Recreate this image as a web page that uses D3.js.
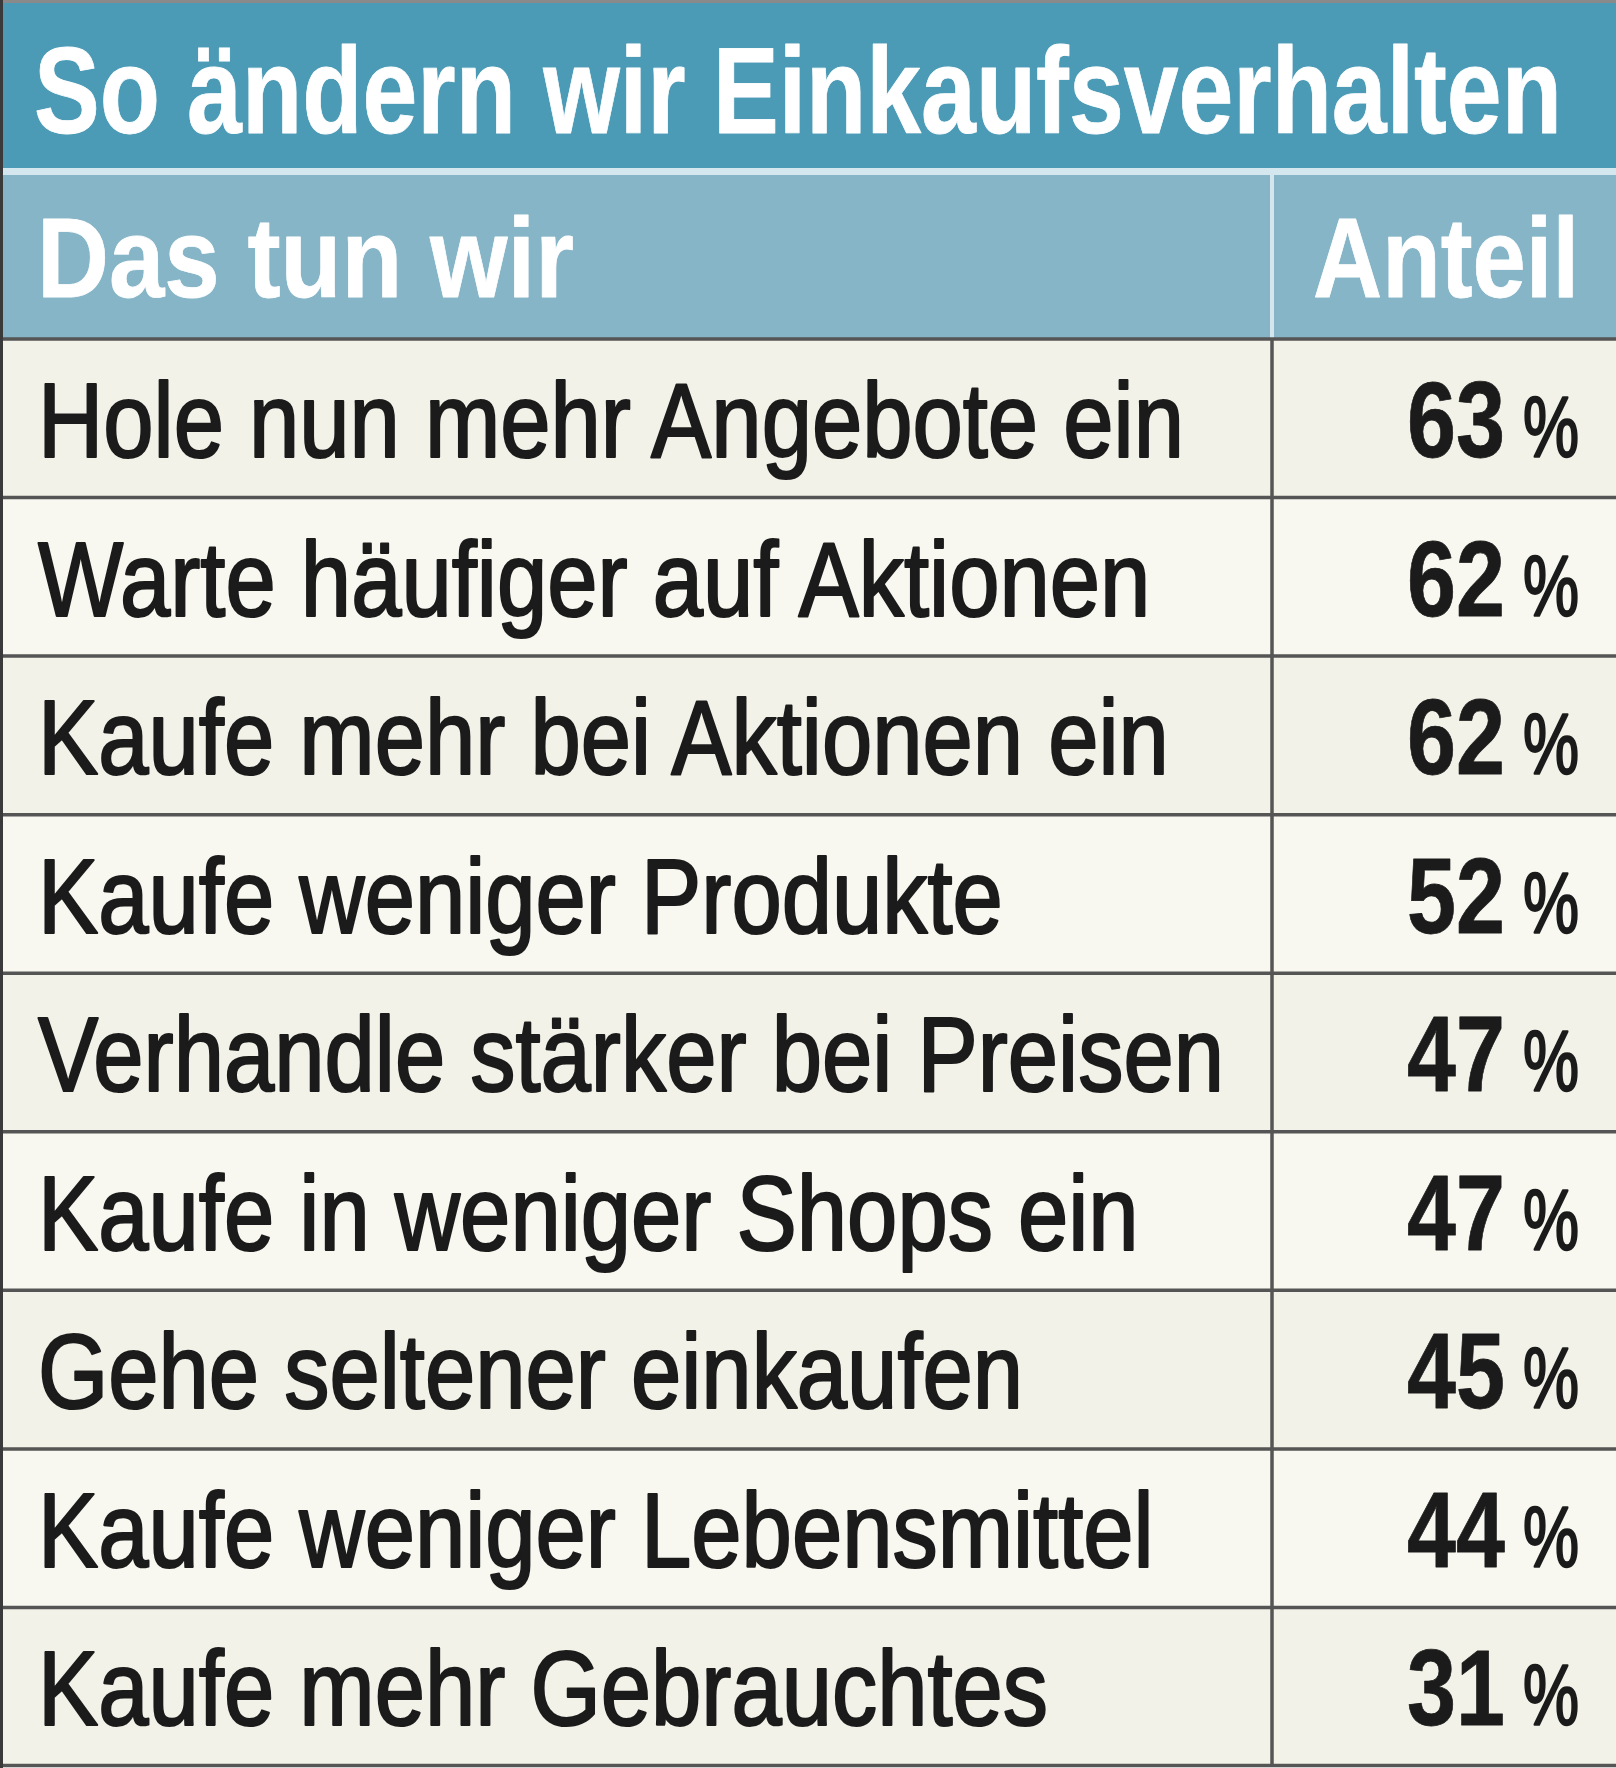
<!DOCTYPE html>
<html><head><meta charset="utf-8">
<script src="https://cdn.jsdelivr.net/npm/d3@7"></script>
<style>html,body{margin:0;padding:0;background:#fff;}svg{display:block;}</style>
</head><body>
<script>
const title = "So ändern wir Einkaufsverhalten";
const headers = ["Das tun wir", "Anteil"];
const categories = [
  "Hole nun mehr Angebote ein",
  "Warte häufiger auf Aktionen",
  "Kaufe mehr bei Aktionen ein",
  "Kaufe weniger Produkte",
  "Verhandle stärker bei Preisen",
  "Kaufe in weniger Shops ein",
  "Gehe seltener einkaufen",
  "Kaufe weniger Lebensmittel",
  "Kaufe mehr Gebrauchtes"
];
const values = [63, 62, 62, 52, 47, 47, 45, 44, 31];

const W = 1616, H = 1768;
const FONT = "'Liberation Sans Narrow','Liberation Sans',Arial,sans-serif";
const svg = d3.select("body").append("svg").attr("width", W).attr("height", H);

const divX = 1272;
const y = d3.scaleBand().domain(d3.range(categories.length)).range([339, 1766]).padding(0);

// backgrounds
svg.append("rect").attr("x",0).attr("y",0).attr("width",W).attr("height",H).attr("fill","#fff");
svg.append("rect").attr("x",0).attr("y",0).attr("width",W).attr("height",4).attr("fill","#8a8a8a");
svg.append("rect").attr("x",0).attr("y",3).attr("width",W).attr("height",166).attr("fill","#4c9bb6");
svg.append("rect").attr("x",0).attr("y",168).attr("width",W).attr("height",7).attr("fill","#d5e7ee");
svg.append("rect").attr("x",0).attr("y",175).attr("width",W).attr("height",163).attr("fill","#86b5c7");
svg.append("rect").attr("x",divX-2).attr("y",175).attr("width",4).attr("height",163).attr("fill","#d3e6ed");

const rows = svg.append("g").selectAll("g").data(categories).join("g")
  .attr("transform",(d,i)=>`translate(0,${y(i)})`);
rows.append("rect").attr("x",0).attr("y",0).attr("width",W).attr("height",y.bandwidth())
  .attr("fill",(d,i)=> i%2===0 ? "#f3f2e8" : "#f8f8f1");

// grid lines
const grid = svg.append("g").attr("stroke","#555").attr("stroke-width",3.5);
y.domain().forEach(i=>{
  grid.append("line").attr("x1",0).attr("x2",W).attr("y1",y(i)).attr("y2",y(i));
});
grid.append("line").attr("x1",0).attr("x2",W).attr("y1",1765.5).attr("y2",1765.5);
grid.append("line").attr("x1",divX).attr("x2",divX).attr("y1",338).attr("y2",1766);
svg.append("rect").attr("x",0).attr("y",0).attr("width",3).attr("height",H).attr("fill","#3a3a3a");

// helper: condensed text
function fitScale(str, size, weight, target){
  const t = svg.append("text").attr("font-family",FONT).attr("font-size",size).attr("font-weight",weight).text(str);
  const w = t.node().getComputedTextLength(); t.remove();
  return target / w;
}
function ctext(str, x, yy, size, weight, s, anchor, fill, sw){
  const t = svg.append("text").attr("transform",`translate(${x},${yy}) scale(${s},1)`)
    .attr("font-family",FONT).attr("font-size",size).attr("font-weight",weight)
    .attr("text-anchor",anchor).attr("fill",fill).text(str);
  if (sw) t.attr("stroke",fill).attr("stroke-width",sw).attr("stroke-linejoin","round");
  return t;
}

const sT = fitScale(title, 123, "bold", 1528);
ctext(title, 34, 133, 123, "bold", sT, "start", "#fff", 0.8);
const sH = fitScale(headers[0], 114, "bold", 537);
ctext(headers[0], 37, 297, 114, "bold", sH, "start", "#fff", 0.8);
const sA = fitScale(headers[1], 114, "bold", 266);
ctext(headers[1], 1579, 297, 114, "bold", sA, "end", "#fff", 0.8);

const sR = fitScale(categories[0], 105, "normal", 1146);
const sN = fitScale("63", 107, "bold", 98);
const sP = fitScale("%", 86, "normal", 56);
categories.forEach((c,i)=>{
  const base = y(i) + 118;
  ctext(c, 38, base, 105, "normal", sR, "start", "#1b1b1b", 2.2);
  ctext(String(values[i]), 1505, base, 107, "bold", sN, "end", "#1b1b1b", 0.8);
  ctext("%", 1579, base, 86, "normal", sP, "end", "#1b1b1b", 2.4);
});
</script>
</body></html>
